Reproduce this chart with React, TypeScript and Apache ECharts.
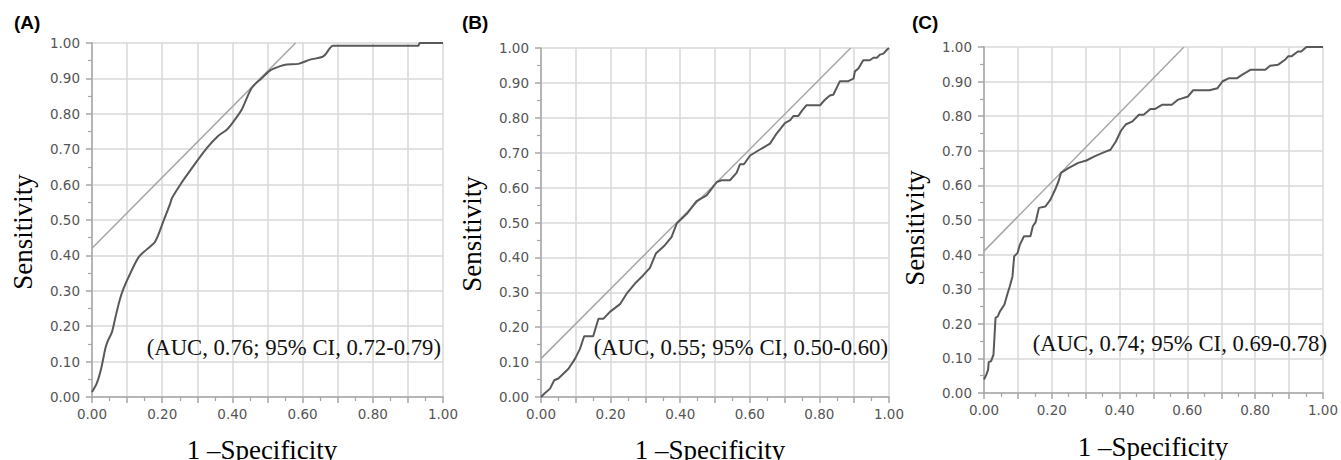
import React, { useEffect, useRef } from "react";
import * as echarts from "echarts";

const panelLabels = ["(A)", "(B)", "(C)"];
const aucLabels = [
  "(AUC, 0.76; 95% CI, 0.72-0.79)",
  "(AUC, 0.55; 95% CI, 0.50-0.60)",
  "(AUC, 0.74; 95% CI, 0.69-0.78)",
];
const xTitle = "1 \u2013Specificity";
const yTitle = "Sensitivity";

const rocA: [number, number][] = [
  [0.0, 0.014], [0.014, 0.04], [0.026, 0.08], [0.038, 0.137], [0.044, 0.156],
  [0.057, 0.184], [0.066, 0.222], [0.079, 0.274], [0.09, 0.307], [0.109, 0.349],
  [0.133, 0.395], [0.156, 0.417], [0.18, 0.439], [0.204, 0.498], [0.223, 0.547],
  [0.228, 0.562], [0.251, 0.599], [0.28, 0.64], [0.327, 0.703], [0.36, 0.738],
  [0.384, 0.755], [0.403, 0.778], [0.427, 0.813], [0.455, 0.873], [0.484, 0.901],
  [0.507, 0.922], [0.534, 0.934], [0.555, 0.939], [0.588, 0.941], [0.621, 0.953],
  [0.659, 0.962], [0.687, 0.992], [0.706, 0.992], [0.929, 0.992], [0.934, 1.0],
  [1.0, 1.0],
];
const rocB: [number, number][] = [
  [0, 0], [0.007, 0.007], [0.026, 0.024], [0.038, 0.048], [0.05, 0.053],
  [0.079, 0.081], [0.098, 0.11], [0.112, 0.138], [0.124, 0.174], [0.15, 0.174],
  [0.165, 0.224], [0.179, 0.224], [0.198, 0.244], [0.227, 0.266], [0.246, 0.296],
  [0.27, 0.325], [0.294, 0.349], [0.313, 0.37], [0.33, 0.411], [0.356, 0.435],
  [0.375, 0.458], [0.39, 0.497], [0.419, 0.525], [0.447, 0.561], [0.476, 0.578],
  [0.505, 0.616], [0.519, 0.621], [0.543, 0.621], [0.562, 0.642], [0.572, 0.667],
  [0.583, 0.667], [0.601, 0.692], [0.634, 0.712], [0.658, 0.726], [0.677, 0.755],
  [0.701, 0.785], [0.716, 0.793], [0.725, 0.805], [0.739, 0.805], [0.749, 0.819],
  [0.763, 0.836], [0.802, 0.836], [0.816, 0.852], [0.83, 0.864], [0.84, 0.866],
  [0.859, 0.905], [0.883, 0.905], [0.898, 0.912], [0.902, 0.933], [0.912, 0.941],
  [0.926, 0.965], [0.945, 0.965], [0.955, 0.972], [0.965, 0.972], [0.974, 0.981],
  [0.984, 0.984], [0.994, 0.995], [1.0, 1.0],
];
const rocC: [number, number][] = [
  [0, 0.039], [0.007, 0.053], [0.012, 0.067], [0.014, 0.09], [0.021, 0.092],
  [0.028, 0.111], [0.034, 0.217], [0.041, 0.222], [0.047, 0.236], [0.06, 0.255],
  [0.07, 0.289], [0.076, 0.308], [0.084, 0.337], [0.089, 0.395], [0.099, 0.405],
  [0.106, 0.429], [0.118, 0.453], [0.137, 0.453], [0.144, 0.482], [0.152, 0.493],
  [0.162, 0.535], [0.181, 0.539], [0.196, 0.559], [0.21, 0.588], [0.22, 0.612],
  [0.227, 0.636], [0.249, 0.65], [0.278, 0.665], [0.302, 0.672], [0.326, 0.684],
  [0.355, 0.696], [0.373, 0.703], [0.389, 0.727], [0.404, 0.758], [0.418, 0.776],
  [0.438, 0.785], [0.457, 0.804], [0.471, 0.804], [0.491, 0.821], [0.505, 0.821],
  [0.525, 0.833], [0.554, 0.833], [0.573, 0.848], [0.602, 0.857], [0.617, 0.875],
  [0.665, 0.875], [0.689, 0.881], [0.704, 0.901], [0.723, 0.91], [0.747, 0.91],
  [0.762, 0.92], [0.786, 0.934], [0.83, 0.934], [0.844, 0.946], [0.868, 0.949],
  [0.888, 0.963], [0.897, 0.973], [0.907, 0.973], [0.926, 0.987], [0.936, 0.987],
  [0.951, 1.0], [1.0, 1.0],
];
const refA: [number, number][] = [[0, 0.42], [0.58, 1.0]];
const refB: [number, number][] = [[0, 0.11], [0.89, 1.0]];
const refC: [number, number][] = [[0, 0.41], [0.59, 1.0]];

const rocs = [rocA, rocB, rocC];
const refs = [refA, refB, refC];

const grids = [
  { left: 92, top: 43, width: 351, height: 354 },
  { left: 541, top: 48, width: 348, height: 349 },
  { left: 984, top: 47, width: 345, height: 346 },
];
const panelLabelPos = [[14, 13], [462, 13], [912, 13]];
const yTitlePos = [[23, 232], [472, 234], [915, 228]];
const xTitlePos = [[262, 450], [710, 450], [1153, 447]];
const aucPos = [[441, 347], [888, 347], [1327, 343]];

export default function App() {
  const ref = useRef<HTMLDivElement>(null);
  useEffect(() => {
    document.body.style.margin = "0";
    const chart = echarts.init(ref.current!, null, { renderer: "svg" });
    const axisCommon = {
      type: "value" as const,
      min: 0,
      max: 1,
      interval: 0.1,
      axisLine: { show: true, lineStyle: { color: "#a6a6a6", width: 1.5 } },
      axisTick: { show: true, length: 6, lineStyle: { color: "#a6a6a6", width: 1.5 } },
      minorTick: { show: true, splitNumber: 2, length: 4, lineStyle: { color: "#a6a6a6", width: 1.2 } },
      splitLine: { show: true, lineStyle: { color: "#d9d9d9", width: 1.5 } },
    };
    const labelStyle = { color: "#555555", fontFamily: "DejaVu Sans", fontSize: 13.5 };
    const graphics: any[] = [];
    for (let i = 0; i < 3; i++) {
      graphics.push({
        type: "text", left: panelLabelPos[i][0], top: panelLabelPos[i][1],
        style: { text: panelLabels[i], font: "bold 19px 'Liberation Sans', Arial", fill: "#000" },
      });
      graphics.push({
        type: "text", x: yTitlePos[i][0], y: yTitlePos[i][1], rotation: Math.PI / 2,
        style: { text: yTitle, font: "27px 'Liberation Serif'", fill: "#000", align: "center", verticalAlign: "middle" },
      });
      graphics.push({
        type: "text", x: xTitlePos[i][0], y: xTitlePos[i][1],
        style: { text: xTitle, font: "27px 'Liberation Serif'", fill: "#000", align: "center", verticalAlign: "middle" },
      });
      graphics.push({
        type: "text", x: aucPos[i][0], y: aucPos[i][1], z: 10,
        style: { text: aucLabels[i], font: "22.7px 'Liberation Serif'", fill: "#111", align: "right", verticalAlign: "middle" },
      });
    }
    chart.setOption({
      animation: false,
      backgroundColor: "#fff",
      grid: grids.map((g) => ({ ...g, containLabel: false })),
      xAxis: grids.map((_, i) => ({
        ...axisCommon,
        gridIndex: i,
        axisLabel: {
          ...labelStyle,
          margin: 10,
          formatter: (v: number) => (Math.round(v * 10) % 2 === 0 ? v.toFixed(2) : ""),
        },
      })),
      yAxis: grids.map((_, i) => ({
        ...axisCommon,
        gridIndex: i,
        axisLabel: { ...labelStyle, margin: 12, formatter: (v: number) => v.toFixed(2) },
      })),
      series: [
        ...refs.map((d, i) => ({
          type: "line", xAxisIndex: i, yAxisIndex: i, data: d, showSymbol: false, symbol: "none",
          lineStyle: { color: "#a6a6a6", width: 1.5 }, silent: true,
        })),
        ...rocs.map((d, i) => ({
          type: "line", xAxisIndex: i, yAxisIndex: i, data: d, showSymbol: false, symbol: "none",
          smooth: i === 0 ? 0.3 : false,
          lineStyle: { color: "#595959", width: 2 }, silent: true,
        })),
      ],
      graphic: graphics,
    });
    return () => chart.dispose();
  }, []);
  return (
    <div
      ref={ref}
      style={{ position: "absolute", left: 0, top: 0, width: 1341, height: 460, background: "#fff" }}
    />
  );
}
